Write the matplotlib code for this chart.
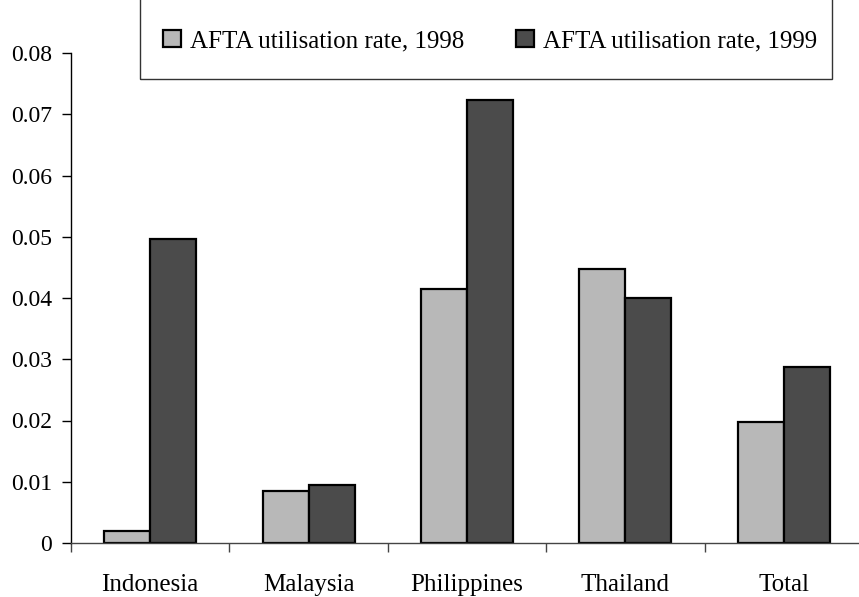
#!/usr/bin/env python3
# AFTA utilisation rates by country, 1998 vs 1999

import matplotlib.pyplot as plt
import matplotlib.patches as mpatches
import numpy as np

countries = ['Indonesia', 'Malaysia', 'Philippines', 'Thailand', 'Total']
rate_1998 = [0.002, 0.0085, 0.0414, 0.0447, 0.0198]
rate_1999 = [0.0496, 0.0095, 0.0724, 0.0400, 0.0288]
yticks = [0, 0.01, 0.02, 0.03, 0.04, 0.05, 0.06, 0.07, 0.08]
ytick_labels = ['0', '0.01', '0.02', '0.03', '0.04', '0.05', '0.06', '0.07', '0.08']

plt.rcParams['font.family'] = ['Liberation Serif', 'DejaVu Serif']
FS = 18

W, H = 859, 597
fig = plt.figure(figsize=(W / 100, H / 100), dpi=100)
ax = fig.add_axes([71 / W, 1 - 543 / H, (863 - 71) / W, (543 - 53) / H])

x = np.arange(len(countries))
w = 0.29
ax.bar(x - w / 2, rate_1998, w, color='#b8b8b8', edgecolor='black', linewidth=1.6,
       label='AFTA utilisation rate, 1998')
ax.bar(x + w / 2, rate_1999, w, color='#4b4b4b', edgecolor='black', linewidth=1.6,
       label='AFTA utilisation rate, 1999')

ax.set_xlim(-0.5, len(countries) - 0.5)
ax.set_ylim(0, 0.08)
ax.set_yticks(yticks)
ax.set_yticklabels(ytick_labels, fontsize=17)
ax.tick_params(axis='y', direction='out', length=6.5, width=1, pad=7)

# category boundaries as major ticks, names on minor ticks
ax.set_xticks(np.arange(len(countries) + 1) - 0.5)
ax.set_xticklabels([])
ax.set_xticks(x, minor=True)
ax.set_xticklabels(countries, minor=True, fontsize=FS)
ax.tick_params(axis='x', which='major', direction='out', length=6.5, width=1, color='#444444')
ax.tick_params(axis='x', which='minor', length=0, pad=22)

for s in ['top', 'right']:
    ax.spines[s].set_visible(False)
ax.spines['left'].set_linewidth(1)
ax.spines['bottom'].set_linewidth(1)
ax.spines['bottom'].set_color('#444444')

# legend box, its top runs off the figure
fig.patches.append(mpatches.Rectangle((140 / W, 1 - 79 / H), (832 - 140) / W, 0.3,
                                      transform=fig.transFigure, fill=False,
                                      edgecolor='#333333', linewidth=1))
h, l = ax.get_legend_handles_labels()
fig.legend(h, l, loc='center', bbox_to_anchor=((140 + 832) / 2 / W + 4 / W, 1 - 41 / H), ncol=2,
           frameon=False, fontsize=FS, handlelength=0.7, handleheight=0.7,
           handletextpad=0.35, columnspacing=2.1)

plt.savefig('out.png', dpi=100)
